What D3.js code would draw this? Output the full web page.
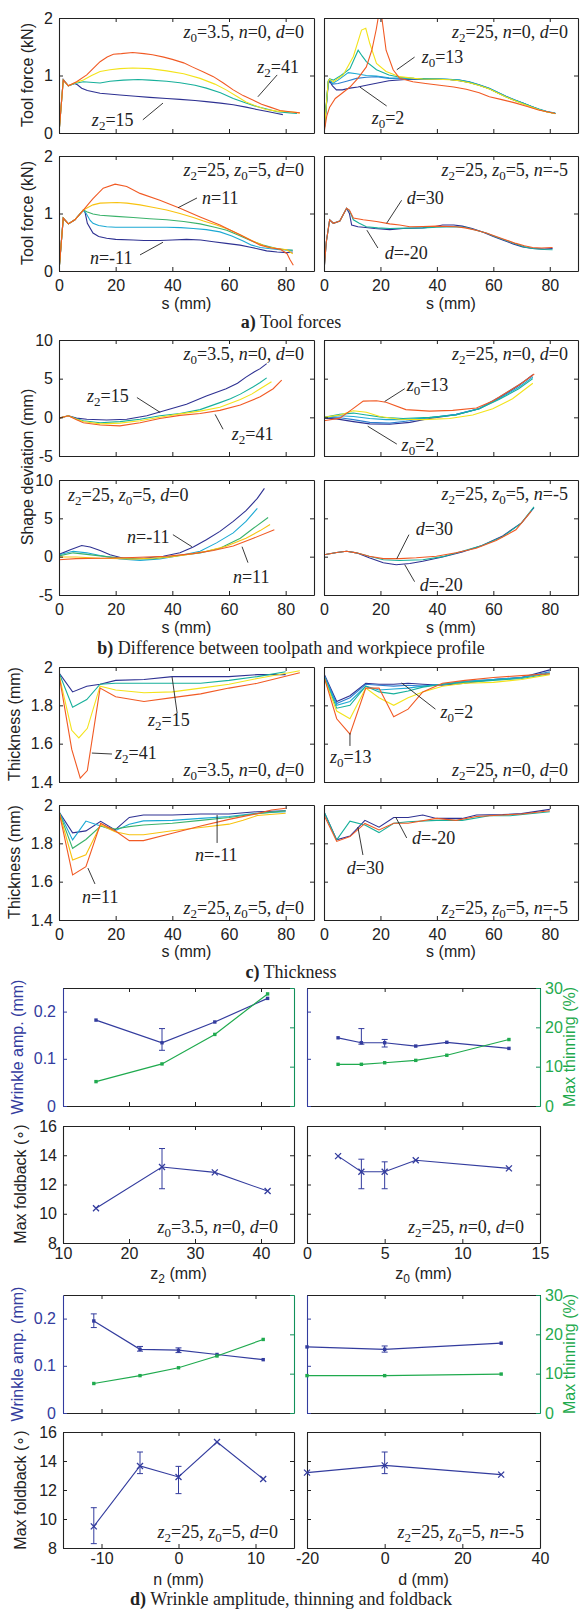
<!DOCTYPE html>
<html>
<head>
<meta charset="utf-8">
<script src="https://cdn.jsdelivr.net/npm/d3@7/dist/d3.min.js"></script>
<style>
  body { margin: 0; background: #fff; }
</style>
</head>
<body>
<div id="fig"></div>
<script>
// a) tool force (kN) vs s (mm)
const fz2_15 = [[0,0],[1.5,0.93],[3.3,0.82],[5.5,0.86],[6.5,0.84],[8,0.78],[10,0.74],[14.5,0.69],[21.5,0.66],[27,0.64],[32,0.62],[38,0.6],[42.7,0.585],[48,0.565],[52,0.545],[57,0.52],[61.5,0.49],[66,0.45],[69.8,0.41],[74,0.37],[77,0.34],[79,0.32]];
const fz2_25 = [[0,0],[1.5,0.92],[3.3,0.82],[5.5,0.86],[8.6,0.89],[14.5,0.87],[18,0.9],[22.7,0.92],[28,0.93],[32,0.92],[38,0.9],[42.7,0.875],[48,0.83],[52,0.78],[57,0.7],[61.5,0.6],[66,0.52],[69.8,0.46],[74,0.41],[77,0.37],[81.5,0.35],[84,0.34]];
const fz2_33 = [[0,0],[1.5,0.92],[3.3,0.82],[5.5,0.87],[8.6,0.92],[11.5,1.0],[14.5,1.07],[18,1.1],[21.5,1.12],[26,1.13],[32,1.12],[38,1.08],[44,1.03],[49.8,0.95],[55,0.85],[59,0.75],[63,0.63],[66,0.54],[70,0.46],[73,0.41],[77,0.38],[81.5,0.37],[85,0.35]];
const fz2_41 = [[0,0],[1.5,0.92],[3.3,0.82],[6.2,0.89],[9.8,1.01],[12,1.12],[14.5,1.24],[17,1.32],[19.2,1.37],[22,1.38],[26,1.4],[30,1.38],[33,1.36],[37,1.32],[40,1.28],[44,1.22],[47,1.15],[51,1.06],[54.5,0.98],[58,0.87],[61.5,0.75],[65,0.65],[68.6,0.57],[71.5,0.5],[74.5,0.45],[78,0.39],[81.5,0.37],[85,0.35]];

const fz0_2 = [[0,0],[1.5,0.85],[2,0.9],[3,0.82],[4.4,0.75],[6.5,0.75],[9.2,0.78],[12,0.8],[15,0.83],[19,0.87],[23,0.91],[29,0.93],[35,0.93],[40,0.935],[44.5,0.93],[48,0.91],[51.5,0.88],[55,0.83],[58.6,0.77],[61.5,0.7],[64.5,0.63],[67.5,0.57],[70.4,0.52],[73.5,0.46],[76.2,0.41],[79,0.37],[82,0.34]];
const fz0_35 = [[0,0],[1.5,0.88],[2,0.93],[3,0.85],[5,0.86],[8,0.9],[11.5,0.95],[15,0.97],[18.6,0.98],[23,0.95],[29,0.94],[35,0.94],[40,0.94],[44.5,0.93],[48,0.92],[51.5,0.89],[55,0.84],[58.6,0.78],[61.5,0.71],[64.5,0.64],[67.5,0.58],[70.4,0.52],[73.5,0.46],[76.2,0.41],[79,0.37],[82,0.34]];
const fz0_5 = [[0,0],[1.5,0.9],[2,0.94],[3,0.86],[5,0.92],[8.6,1.05],[11.5,1.03],[15,1.0],[18.6,0.99],[23,0.96],[29,0.95],[35,0.94],[40,0.94],[44.5,0.935],[48,0.92],[51.5,0.885],[55,0.835],[58.6,0.775],[61.5,0.71],[64.5,0.635],[67.5,0.575],[70.4,0.52],[73.5,0.46],[76.2,0.415],[79,0.375],[82,0.345]];
const fz0_7 = [[0,0],[1.5,0.9],[2,0.94],[3.3,0.92],[6,1.0],[9.2,1.12],[12.1,1.44],[13.5,1.34],[15,1.24],[18.6,1.1],[23,1.01],[27,0.97],[32,0.95],[35,0.945],[40,0.94],[44.5,0.93],[48,0.915],[51.5,0.88],[55,0.83],[58.6,0.77],[61.5,0.7],[64.5,0.63],[67.5,0.57],[70.4,0.515],[73.5,0.455],[76.2,0.41],[79,0.37],[82,0.34]];
const fz0_9 = [[0,0],[1.5,0.9],[2,0.94],[3.3,0.89],[6.8,1.01],[10.4,1.33],[13.3,1.79],[14.8,1.82],[16.2,1.56],[18.6,1.21],[22,1.07],[26.8,0.98],[32,0.95],[35,0.94],[40,0.935],[44.5,0.925],[48,0.91],[51.5,0.875],[55,0.825],[58.6,0.765],[61.5,0.695],[64.5,0.625],[67.5,0.565],[70.4,0.51],[73.5,0.45],[76.2,0.405],[79,0.365],[82,0.335]];
const fz0_13 = [[0,0],[1,0.3],[2,0.45],[4,0.6],[5.6,0.66],[9.2,0.8],[12,0.95],[15,1.15],[17,1.45],[18.5,1.8],[19.2,2.0],[20.5,2.0],[22,1.44],[24.5,1.1],[26.8,0.95],[31.5,0.89],[36,0.86],[41,0.83],[46,0.8],[50.4,0.76],[55,0.7],[58.6,0.63],[63,0.58],[68,0.52],[72,0.46],[76,0.4],[79,0.37],[82,0.34]];

const fn_m11 = [[0,0],[1.5,0.92],[3.3,0.82],[5.6,0.89],[8.6,1.06],[9.2,1.02],[10,0.83],[12,0.66],[14,0.6],[16.8,0.57],[20,0.55],[26.2,0.54],[30,0.53],[35.6,0.53],[40,0.54],[45,0.55],[50,0.54],[54.5,0.51],[59,0.48],[63.9,0.45],[68,0.41],[73.3,0.35],[77,0.33],[80.4,0.32],[82.5,0.33]];
const fn_m5 = [[0,0],[1.5,0.92],[3.3,0.82],[5.6,0.89],[8.6,1.06],[9.6,1.0],[11,0.88],[12,0.83],[14,0.79],[16.8,0.77],[20,0.76],[26.2,0.76],[32,0.76],[38,0.76],[43,0.755],[47.4,0.74],[52,0.72],[56.8,0.68],[61,0.61],[65,0.52],[68,0.45],[71,0.41],[74,0.39],[78,0.37],[82.5,0.36]];
const fn_0 = [[0,0],[1.5,0.92],[3.3,0.82],[5.6,0.89],[8.6,1.06],[9.8,1.03],[12,0.99],[14.5,0.97],[20,0.95],[26.2,0.93],[32,0.91],[38,0.89],[44,0.86],[49.8,0.82],[55,0.76],[59.2,0.71],[63,0.63],[68.6,0.51],[72,0.45],[76.8,0.39],[80,0.37],[82.5,0.36]];
const fn_5 = [[0,0],[1.5,0.92],[3.3,0.82],[5.6,0.89],[8.6,1.06],[10,1.1],[12,1.15],[14.5,1.18],[20.4,1.19],[24,1.18],[28.6,1.15],[33,1.11],[38,1.06],[42.7,1.0],[47.4,0.93],[51,0.87],[55.6,0.8],[60,0.72],[63.9,0.63],[68,0.53],[73.3,0.42],[77,0.39],[80.4,0.37],[82.5,0.3]];
const fn_11 = [[0,0],[1.5,0.92],[3.3,0.82],[5.6,0.89],[8.6,1.06],[10.5,1.17],[12,1.26],[15.6,1.44],[19.8,1.51],[23.9,1.47],[28.6,1.35],[35.6,1.23],[42.7,1.09],[49.8,0.94],[56.8,0.8],[60,0.72],[63.9,0.63],[67.5,0.54],[71,0.45],[75,0.4],[78,0.38],[80.5,0.3],[81.5,0.2],[82.7,0.1]];

const fd_m20 = [[0,0],[0.8,0.5],[2,0.89],[3.3,0.83],[5.6,0.87],[8,1.09],[9,1.0],[9.8,0.8],[12,0.77],[13.9,0.76],[18,0.74],[23.3,0.72],[28,0.74],[35,0.75],[39,0.77],[42,0.8],[46,0.8],[49,0.78],[52.5,0.74],[56.2,0.68],[60,0.6],[63.3,0.54],[67,0.47],[70.4,0.42],[74,0.39],[78,0.38],[81,0.39]];
const fd_0 = [[0,0],[0.8,0.5],[2,0.89],[3.3,0.83],[5.6,0.87],[8,1.09],[9,1.05],[10.4,0.89],[12.5,0.83],[15,0.77],[19,0.75],[23.3,0.74],[29,0.745],[35,0.75],[40,0.76],[46.8,0.77],[50,0.76],[53.9,0.71],[57.5,0.66],[61,0.59],[64.5,0.53],[68,0.47],[71,0.42],[73.9,0.39],[78,0.375],[81,0.37]];
const fd_30 = [[0,0],[0.8,0.5],[2,0.89],[3.3,0.83],[5.6,0.87],[8,1.09],[9,1.06],[10.4,0.92],[13.9,0.89],[18.6,0.86],[23.3,0.82],[26.8,0.8],[30.4,0.77],[35,0.775],[39.8,0.78],[46.8,0.77],[50,0.75],[53.9,0.71],[57.5,0.66],[61,0.6],[64.5,0.54],[68,0.48],[71,0.44],[73.9,0.41],[77,0.4],[81,0.41]];

// b) shape deviation (mm) vs s (mm)
const sz2_15 = [[0,-0.1],[3.3,0.2],[6.2,-0.1],[9.8,-0.25],[16.8,-0.35],[23.9,-0.25],[31,0.2],[38,0.95],[45,1.7],[52,2.75],[59,3.7],[63,4.4],[66,5.2],[69,5.9],[71,6.3],[73.3,6.95]];
const sz2_25 = [[0,-0.1],[3.3,0.2],[6.2,-0.2],[8.6,-0.45],[14.5,-0.7],[21.5,-0.55],[28.6,-0.25],[35.6,0.2],[42.7,0.5],[49.8,1.0],[56.8,1.9],[60.5,2.4],[64,3.0],[68.6,3.95],[71,4.5],[73.3,5.1]];
const sz2_33 = [[0,-0.1],[3.3,0.2],[6.2,-0.25],[8.6,-0.55],[14.5,-0.85],[21.5,-0.75],[28.6,-0.45],[35.6,0],[42.7,0.45],[49.8,0.8],[56.8,1.3],[64,2.3],[68,3.0],[71,3.7],[75,4.6]];
const sz2_41 = [[0,-0.1],[3.3,0.2],[6.2,-0.3],[8.6,-0.7],[14.5,-1.0],[21.5,-1.1],[28.6,-0.7],[35.6,-0.15],[42.7,0.25],[49.8,0.5],[56.8,0.9],[64,1.6],[71,2.65],[75.6,3.7],[78.6,4.8]];

const sz0_2 = [[0,-0.1],[4.4,-0.2],[10.4,-0.55],[16.2,-0.85],[23.3,-0.9],[30.4,-0.65],[37.4,-0.15],[46.8,0.35],[55,1.1],[62,2.5],[69,4.1],[74,5.5]];
const sz0_35 = [[0,0],[5.6,-0.05],[10.4,-0.3],[16.2,-0.65],[23.3,-0.75],[29,-0.5],[37.4,-0.05],[46.8,0.4],[55,1.15],[62,2.6],[69,4.2],[74,5.4]];
const sz0_5 = [[0,0],[5.6,0.2],[10.4,0.1],[16.2,-0.15],[22,-0.3],[29,-0.3],[37.4,-0.05],[46.8,0.35],[55,1.1],[62,2.4],[69,3.9],[74,5.2]];
const sz0_7 = [[0,0],[5.6,0.4],[10.4,0.55],[15,0.3],[21,0],[28,-0.15],[37.4,0],[46.8,0.3],[55,1.1],[62,2.3],[69,3.7],[74,5.0]];
const sz0_9 = [[0,0],[5.6,0.3],[10.4,0.85],[15,0.65],[19.8,0.1],[26.8,-0.25],[35,-0.3],[44.5,-0.15],[52.7,0.3],[59.8,1.1],[66.8,2.4],[74,4.4]];
const sz0_13 = [[0,-0.45],[5.6,-0.1],[9.8,1.0],[13.9,2.1],[18.6,2.15],[22,1.95],[29,1.0],[37.4,0.8],[45.6,0.9],[54,1.2],[59.8,2.1],[65.6,3.4],[70.4,4.5],[74.5,5.6]];

const sn_m11 = [[0,0.3],[4,0.9],[8,1.45],[11,1.25],[14.5,0.8],[18,0.25],[22.7,-0.2],[29.8,-0.2],[36.8,0.05],[42.7,0.5],[47.4,1.25],[52,2.2],[56.8,3.3],[61.5,4.6],[66,6.0],[70,7.6],[72.5,8.9]];
const sn_m5 = [[0,0.25],[5,0.7],[9.8,0.5],[14.5,0.15],[21.5,-0.3],[28.6,-0.5],[35.6,-0.3],[42.7,0.15],[49.8,0.7],[55.6,1.8],[61.5,3.1],[66,4.6],[70,6.3]];
const sn_0 = [[0,0.1],[5,0.5],[9.8,0.3],[16.8,0],[26,-0.3],[33,-0.3],[40,0.05],[49.8,0.5],[56.8,1.1],[64,2.4],[68.6,3.7],[73.8,5.1]];
const sn_5 = [[0,-0.05],[6,-0.05],[14.5,-0.2],[26,-0.3],[38,-0.1],[45,0.25],[52,0.7],[59,1.35],[66,2.4],[71,3.4],[74.5,4.2]];
const sn_11 = [[0,-0.4],[6,-0.25],[14.5,-0.2],[26,-0.1],[38,0.05],[47.4,0.4],[54.5,0.8],[61.5,1.4],[68.6,2.4],[76,3.5]];

const sd_m20 = [[0,0.25],[4.5,0.55],[8,0.7],[11.5,0.5],[16,-0.15],[21,-0.8],[25.6,-1.05],[30.4,-0.9],[35,-0.6],[42,-0.05],[49,0.6],[56,1.45],[63.3,2.7],[70,4.4],[74.4,6.4]];
const sd_0 = [[0,0.25],[4.5,0.55],[8,0.7],[11.5,0.5],[16,0.05],[21,-0.4],[26.8,-0.5],[35,-0.4],[42,0],[49,0.7],[56,1.45],[63.3,2.6],[70,4.4],[74.4,6.5]];
const sd_30 = [[0,0.25],[4.5,0.55],[8,0.7],[11.5,0.5],[16,0.05],[21,-0.25],[26.8,-0.25],[32.7,-0.15],[39.8,0.05],[46.8,0.5],[53.9,1.1],[61,2.1],[68,3.5],[73.4,5.9]];

// c) thickness (mm) vs s (mm)
const tz2_15 = [[0,1.97],[4.8,1.87],[9.8,1.9],[14.5,1.91],[20,1.93],[30,1.935],[40,1.95],[50,1.95],[60,1.95],[70,1.96],[80,1.96]];
const tz2_25 = [[0,1.97],[4.8,1.79],[9.8,1.83],[14.5,1.91],[20,1.915],[30,1.915],[40,1.915],[50,1.915],[60,1.93],[70,1.95],[80,1.975]];
const tz2_33 = [[0,1.96],[4.5,1.67],[7,1.63],[10,1.68],[14.5,1.9],[20,1.88],[30,1.866],[40,1.87],[50,1.89],[60,1.91],[70,1.94],[85,1.98]];
const tz2_41 = [[0,1.96],[4.5,1.57],[7.5,1.42],[10,1.46],[14.5,1.89],[20,1.845],[30,1.82],[40,1.84],[50,1.86],[60,1.89],[70,1.915],[85,1.97]];

const tz0_2 = [[0,1.965],[4.5,1.82],[9.2,1.85],[14.8,1.915],[19.5,1.91],[24.7,1.91],[29.8,1.915],[35,1.91],[42,1.905],[50,1.915],[60,1.935],[70,1.945],[80,1.985]];
const tz0_35 = [[0,1.96],[4.5,1.81],[9.2,1.84],[14.8,1.91],[19.5,1.905],[24.7,1.9],[29.8,1.905],[35,1.9],[42,1.91],[50,1.925],[60,1.935],[70,1.945],[80,1.975]];
const tz0_5 = [[0,1.955],[4.5,1.8],[9.2,1.82],[14.8,1.9],[19.5,1.88],[24.7,1.885],[29.8,1.89],[35,1.9],[42,1.91],[50,1.925],[60,1.935],[70,1.945],[80,1.97]];
const tz0_7 = [[0,1.95],[4.5,1.785],[9.2,1.8],[14.8,1.9],[19.5,1.87],[24.7,1.86],[29.8,1.875],[35,1.895],[42,1.91],[50,1.92],[60,1.93],[70,1.94],[80,1.965]];
const tz0_9 = [[0,1.945],[4.5,1.77],[9.2,1.73],[14.8,1.89],[19.5,1.84],[24.7,1.8],[29.8,1.84],[35,1.87],[42,1.9],[50,1.915],[60,1.92],[70,1.935],[80,1.96]];
const tz0_13 = [[0,1.95],[4.5,1.73],[9.2,1.65],[14.8,1.89],[19.5,1.89],[24.7,1.74],[29.8,1.78],[35,1.87],[42,1.915],[50,1.93],[60,1.945],[70,1.955],[80,1.965]];

const tn_m11 = [[0,1.965],[4.8,1.855],[9.5,1.865],[14.7,1.915],[19.8,1.87],[24.8,1.935],[29.8,1.948],[40,1.948],[50,1.953],[60,1.953],[70,1.965],[80,1.97]];
const tn_m5 = [[0,1.965],[4.8,1.818],[9.5,1.916],[14.7,1.89],[19.8,1.866],[24.8,1.9],[29.8,1.917],[40,1.92],[50,1.93],[60,1.94],[70,1.957],[80,1.965]];
const tn_0 = [[0,1.965],[4.8,1.774],[9.5,1.82],[14.7,1.89],[19.8,1.875],[24.8,1.887],[29.8,1.896],[40,1.905],[50,1.92],[60,1.935],[70,1.955],[80,1.97]];
const tn_5 = [[0,1.965],[4.8,1.713],[9.5,1.74],[14.7,1.896],[19.8,1.86],[24.8,1.845],[29.8,1.845],[40,1.866],[50,1.883],[60,1.9],[65,1.92],[70,1.945],[80,1.957]];
const tn_11 = [[0,1.965],[4.8,1.635],[9.5,1.678],[14.7,1.904],[19.8,1.866],[24.8,1.814],[29.8,1.814],[40,1.853],[50,1.89],[60,1.925],[70,1.955],[75,1.974],[80,1.983]];

const td_m20 = [[0,1.965],[4.5,1.818],[9.2,1.838],[14.5,1.92],[19.5,1.884],[24.7,1.935],[29.8,1.935],[35,1.948],[39.8,1.93],[49,1.93],[54,1.948],[63.3,1.95],[70,1.955],[80,1.977]];
const td_0 = [[0,1.965],[4.5,1.818],[9.2,1.916],[14.5,1.896],[19.5,1.856],[24.7,1.905],[29.8,1.913],[39.8,1.92],[49,1.92],[58.6,1.944],[66,1.944],[80,1.965]];
const td_30 = [[0,1.948],[4.5,1.81],[9.2,1.835],[14.5,1.904],[19.5,1.87],[24.7,1.905],[29.8,1.905],[39.8,1.93],[46.8,1.92],[54,1.94],[63.3,1.948],[70,1.953],[80,1.97]];

// d) wrinkle amplitude (mm), max thinning (%), max foldback (deg)
const z2Vals = [15, 25, 33, 41];
const wrinkleZ2 = [0.182, 0.134, 0.178, 0.228];
const wrinkleZ2Err = [null, [0.118, 0.164], null, null];
const thinZ2 = [6.2, 10.7, 18.2, 28.5];
const foldZ2 = [10.38, 13.2, 12.83, 11.55];
const foldZ2Err = [null, [11.71, 14.46], null, null];

const z0Vals = [2, 3.5, 5, 7, 9, 13];
const wrinkleZ0 = [0.1445, 0.134, 0.134, 0.127, 0.135, 0.122];
const wrinkleZ0Err = [null, [0.131, 0.164], [0.125, 0.141], null, null, null];
const thinZ0 = [10.6, 10.6, 11.0, 11.6, 12.9, 16.9];
const z0FoldVals = [2, 3.5, 5, 7, 13];
const foldZ0 = [13.94, 12.87, 12.87, 13.66, 13.1];
const foldZ0Err = [null, [11.71, 13.73], [11.71, 13.55], null, null];

const nVals = [-11, -5, 0, 5, 11];
const wrinkleN = [0.195, 0.135, 0.133, 0.124, 0.113];
const wrinkleNErr = [[0.181, 0.21], [0.131, 0.141], [0.128, 0.138], null, null];
const thinN = [7.5, 9.5, 11.5, 14.5, 18.7];
const foldN = [9.49, 13.66, 12.9, 15.31, 12.76];
const foldNErr = [[8.3, 10.78], [13.13, 14.62], [11.75, 13.63], null, null];

const dVals = [-20, 0, 30];
const wrinkleD = [0.14, 0.135, 0.148];
const wrinkleDErr = [null, [0.129, 0.142], null];
const thinD = [9.5, 9.5, 9.9];
const foldD = [13.2, 13.7, 13.06];
const foldDErr = [null, [13.13, 14.62], null];

const sTicks = [0, 20, 40, 60, 80];

// colours
const BLUE = "#2e3192", LBLUE = "#2f7fd0", CYAN = "#1ca9d4", TEAL = "#17b09b",
      GREEN = "#3ab26b", YEL = "#f3e31b", GOLD = "#f8c20f", RED = "#f15a24";
const WBLUE = "#333c9e", TGREEN = "#1faa4e", AXGREEN = "#13905a";
const SANS = "'Liberation Sans', Arial, sans-serif";
const SERIF = "'Liberation Serif', 'Times New Roman', serif";
const INK = "#222";

const svg = d3.select("#fig").append("svg")
    .attr("width", 584)
    .attr("height", 1609)
    .style("display", "block");

let clipCount = 0;
const fmt = d => String(d);

// axis with inward ticks, the domain line is the frame edge
function addAxis(g, axis, tx, ty, color, pad) {
    axis.tickSizeInner(-4).tickSizeOuter(0).tickPadding(pad);
    const a = g.append("g").attr("transform", `translate(${tx},${ty})`).call(axis);
    a.attr("font-family", null).attr("font-size", null);
    a.select(".domain").attr("stroke", color).attr("stroke-width", 1.1);
    a.selectAll(".tick line").attr("stroke", color);
    a.selectAll(".tick text").attr("fill", color)
        .style("font-family", SANS).style("font-size", "16px");
    return a;
}

// serif label with italic letters and "_x" subscripts
function mathText(g, x, y, str, anchor) {
    const t = g.append("text").attr("x", x).attr("y", y)
        .attr("text-anchor", anchor || "start")
        .style("font-family", SERIF).style("font-size", "18px").attr("fill", INK);
    let sub = false, back = false;
    for (const c of str) {
        if (c === "_") { sub = true; continue; }
        const sp = t.append("tspan").text(c);
        if (/[a-z]/.test(c)) sp.style("font-style", "italic");
        if (sub) {
            sp.attr("dy", 4).style("font-size", "13px");
            sub = false; back = true;
        } else if (back) {
            sp.attr("dy", -4);
            back = false;
        }
    }
    return t;
}

function linePanel(o) {
    const g = svg.append("g");
    const x = d3.scaleLinear().domain(o.xd).range([o.left, o.left + o.w]);
    const y = d3.scaleLinear().domain(o.yd).range([o.top + o.h, o.top]);
    const id = "clip" + (clipCount++);
    svg.append("clipPath").attr("id", id).append("rect")
        .attr("x", o.left).attr("y", o.top).attr("width", o.w).attr("height", o.h);

    const line = d3.line().x(d => x(d[0])).y(d => y(d[1]));
    g.append("g").attr("clip-path", `url(#${id})`)
        .selectAll("path")
        .data(o.series).join("path")
        .attr("d", d => line(d[0]))
        .attr("fill", "none")
        .attr("stroke", d => d[1])
        .attr("stroke-width", 1.1);

    addAxis(g, d3.axisBottom(x).tickValues(o.xt).tickFormat(o.xl ? fmt : ""), 0, o.top + o.h, INK, 9);
    addAxis(g, d3.axisTop(x).tickValues(o.xt).tickFormat(""), 0, o.top, INK, 3);
    addAxis(g, d3.axisLeft(y).tickValues(o.yt).tickFormat(o.yl ? fmt : ""), o.left, 0, INK, 6);
    addAxis(g, d3.axisRight(y).tickValues(o.yt).tickFormat(""), o.left + o.w, 0, INK, 3);

    // condition label in a corner
    const [txt, pos] = o.cond;
    if (pos === "tr") mathText(g, o.left + o.w - 10, o.top + 20, txt, "end");
    if (pos === "br") mathText(g, o.left + o.w - 10, o.top + o.h - 6, txt, "end");
    if (pos === "tl") mathText(g, o.left + 9, o.top + 21, txt, "start");

    // curve labels with leader lines (positions in data units)
    o.notes.forEach(n => {
        mathText(g, x(n[1]), y(n[2]) + 6, n[0], "start");
        g.append("line")
            .attr("x1", x(n[3])).attr("y1", y(n[4]))
            .attr("x2", x(n[5])).attr("y2", y(n[6]))
            .attr("stroke", INK).attr("stroke-width", 0.9);
    });
    return { g, x, y };
}

function yLabel(x, y, txt, color) {
    return svg.append("text")
        .attr("transform", `translate(${x},${y}) rotate(-90)`)
        .attr("text-anchor", "middle")
        .attr("dominant-baseline", "central")
        .style("font-family", SANS).style("font-size", "16px")
        .attr("fill", color || INK)
        .text(txt);
}

function xLabel(x, y, main, sub, rest) {
    const t = svg.append("text").attr("x", x).attr("y", y)
        .attr("text-anchor", "middle")
        .style("font-family", SANS).style("font-size", "16px").attr("fill", INK);
    t.append("tspan").text(main);
    if (sub) {
        t.append("tspan").attr("dy", 4).style("font-size", "12px").text(sub);
        t.append("tspan").attr("dy", -4).text(rest);
    }
    return t;
}

function title(y, tag, rest) {
    const t = svg.append("text").attr("x", 291).attr("y", y)
        .attr("text-anchor", "middle")
        .style("font-family", SERIF).style("font-size", "18px").attr("fill", INK);
    t.append("tspan").style("font-weight", "bold").text(tag);
    t.append("tspan").text(" " + rest);
}

const LX = 59, LW = 255, RX = 324, RW = 254, PH = 115;

// ---------- a) tool forces ----------
linePanel({ left: LX, top: 18, w: LW, h: PH, xd: [0, 90], yd: [0, 2], xt: sTicks, yt: [0, 1, 2], xl: false, yl: true,
    series: [[fz2_15, BLUE], [fz2_25, TEAL], [fz2_33, YEL], [fz2_41, RED]],
    cond: ["z_0=3.5, n=0, d=0", "tr"],
    notes: [["z_2=41", 70, 1.15, 77, 1.01, 70.2, 0.63], ["z_2=15", 11.6, 0.23, 29.6, 0.23, 36.7, 0.52]] });
linePanel({ left: RX, top: 18, w: RW, h: PH, xd: [0, 90], yd: [0, 2], xt: sTicks, yt: [0, 1, 2], xl: false, yl: false,
    series: [[fz0_2, BLUE], [fz0_35, LBLUE], [fz0_5, CYAN], [fz0_7, TEAL], [fz0_9, YEL], [fz0_13, RED]],
    cond: ["z_2=25, n=0, d=0", "tr"],
    notes: [["z_0=13", 34.6, 1.32, 32.1, 1.32, 25.8, 1.1], ["z_0=2", 16.9, 0.26, 22.2, 0.47, 12.7, 0.8]] });
linePanel({ left: LX, top: 156, w: LW, h: PH, xd: [0, 90], yd: [0, 2], xt: sTicks, yt: [0, 1, 2], xl: true, yl: true,
    series: [[fn_m11, BLUE], [fn_m5, CYAN], [fn_0, GREEN], [fn_5, GOLD], [fn_11, RED]],
    cond: ["z_2=25, z_0=5, d=0", "tr"],
    notes: [["n=11", 50.5, 1.27, 48.7, 1.27, 42, 1.1], ["n=-11", 10.9, 0.23, 28.6, 0.28, 36.7, 0.5]] });
linePanel({ left: RX, top: 156, w: RW, h: PH, xd: [0, 90], yd: [0, 2], xt: sTicks, yt: [0, 1, 2], xl: true, yl: false,
    series: [[fd_m20, BLUE], [fd_0, TEAL], [fd_30, RED]],
    cond: ["z_2=25, z_0=5, n=-5", "tr"],
    notes: [["d=30", 29.3, 1.27, 27.5, 1.23, 22.2, 0.83], ["d=-20", 21.5, 0.31, 19.1, 0.4, 15.2, 0.71]] });
yLabel(27, 75, "Tool force (kN)");
yLabel(27, 213, "Tool force (kN)");
xLabel(LX + LW / 2, 309, "s (mm)");
xLabel(RX + RW / 2, 309, "s (mm)");
title(328, "a)", "Tool forces");

// ---------- b) shape deviation ----------
linePanel({ left: LX, top: 340, w: LW, h: 116, xd: [0, 90], yd: [-5, 10], xt: sTicks, yt: [-5, 0, 5, 10], xl: false, yl: true,
    series: [[sz2_15, BLUE], [sz2_25, TEAL], [sz2_33, YEL], [sz2_41, RED]],
    cond: ["z_0=3.5, n=0, d=0", "tr"],
    notes: [["z_2=15", 9.9, 2.7, 27.5, 2.56, 35.7, 0.64], ["z_2=41", 61, -2.2, 57.9, -1.54, 55.1, 0.38]] });
linePanel({ left: RX, top: 340, w: RW, h: 116, xd: [0, 90], yd: [-5, 10], xt: sTicks, yt: [-5, 0, 5, 10], xl: false, yl: false,
    series: [[sz0_2, BLUE], [sz0_35, LBLUE], [sz0_5, CYAN], [sz0_7, TEAL], [sz0_9, YEL], [sz0_13, RED]],
    cond: ["z_2=25, n=0, d=0", "tr"],
    notes: [["z_0=13", 29.3, 4.2, 28.6, 3.7, 21.5, 2.05], ["z_0=2", 27.5, -3.6, 25.8, -3.46, 15.5, -1.15]] });
linePanel({ left: LX, top: 480, w: LW, h: 115, xd: [0, 90], yd: [-5, 10], xt: sTicks, yt: [-5, 0, 5, 10], xl: true, yl: true,
    series: [[sn_m11, BLUE], [sn_m5, CYAN], [sn_0, GREEN], [sn_5, GOLD], [sn_11, RED]],
    cond: ["z_2=25, z_0=5, d=0", "tl"],
    notes: [["n=-11", 24, 2.6, 40.2, 2.87, 46.9, 1.3], ["n=11", 61.4, -2.6, 66.7, -0.78, 64.6, 1.3]] });
linePanel({ left: RX, top: 480, w: RW, h: 115, xd: [0, 90], yd: [-5, 10], xt: sTicks, yt: [-5, 0, 5, 10], xl: true, yl: false,
    series: [[sd_m20, BLUE], [sd_0, TEAL], [sd_30, RED]],
    cond: ["z_2=25, z_0=5, n=-5", "tr"],
    notes: [["d=30", 32.5, 3.65, 30.1, 2.87, 25.8, -0.26], ["d=-20", 33.9, -3.65, 32.1, -3.26, 28.6, -1.04]] });
yLabel(27, 467, "Shape deviation (mm)");
xLabel(LX + LW / 2, 633, "s (mm)");
xLabel(RX + RW / 2, 633, "s (mm)");
title(654, "b)", "Difference between toolpath and workpiece profile");

// ---------- c) thickness ----------
linePanel({ left: LX, top: 667, w: LW, h: PH, xd: [0, 90], yd: [1.4, 2], xt: sTicks, yt: [1.4, 1.6, 1.8, 2], xl: false, yl: true,
    series: [[tz2_15, BLUE], [tz2_25, TEAL], [tz2_33, YEL], [tz2_41, RED]],
    cond: ["z_0=3.5, n=0, d=0", "br"],
    notes: [["z_2=15", 31.4, 1.724, 39.9, 1.948, 41.7, 1.76], ["z_2=41", 19.8, 1.551, 11.6, 1.551, 18.7, 1.546]] });
linePanel({ left: RX, top: 667, w: RW, h: PH, xd: [0, 90], yd: [1.4, 2], xt: sTicks, yt: [1.4, 1.6, 1.8, 2], xl: false, yl: false,
    series: [[tz0_2, BLUE], [tz0_35, LBLUE], [tz0_5, CYAN], [tz0_7, TEAL], [tz0_9, YEL], [tz0_13, RED]],
    cond: ["z_2=25, n=0, d=0", "br"],
    notes: [["z_0=2", 41.3, 1.765, 27.5, 1.917, 39.5, 1.78], ["z_0=13", 2.1, 1.53, 9.2, 1.656, 9.2, 1.588]] });
linePanel({ left: LX, top: 805, w: LW, h: PH, xd: [0, 90], yd: [1.4, 2], xt: sTicks, yt: [1.4, 1.6, 1.8, 2], xl: true, yl: true,
    series: [[tn_m11, BLUE], [tn_m5, CYAN], [tn_0, GREEN], [tn_5, GOLD], [tn_11, RED]],
    cond: ["z_2=25, z_0=5, d=0", "br"],
    notes: [["n=-11", 48, 1.739, 55.8, 1.948, 55.8, 1.802], ["n=11", 8.1, 1.52, 10.2, 1.671, 12.7, 1.588]] });
linePanel({ left: RX, top: 805, w: RW, h: PH, xd: [0, 90], yd: [1.4, 2], xt: sTicks, yt: [1.4, 1.6, 1.8, 2], xl: true, yl: false,
    series: [[td_m20, BLUE], [td_0, TEAL], [td_30, RED]],
    cond: ["z_2=25, z_0=5, n=-5", "br"],
    notes: [["d=-20", 31.2, 1.828, 25.4, 1.937, 29.3, 1.828], ["d=30", 8.1, 1.671, 12, 1.885, 13.8, 1.739]] });
yLabel(14, 724, "Thickness (mm)");
yLabel(14, 862, "Thickness (mm)");
xLabel(LX + LW / 2, 957, "s (mm)");
xLabel(RX + RW / 2, 957, "s (mm)");
title(978, "c)", "Thickness");

// ---------- d) wrinkle amplitude, thinning and foldback ----------
function errBars(g, x, y, xs, errs, color) {
    xs.forEach((xv, i) => {
        const e = errs[i];
        if (!e) return;
        const px = x(xv);
        g.append("line").attr("x1", px).attr("x2", px).attr("y1", y(e[0])).attr("y2", y(e[1]))
            .attr("stroke", color).attr("stroke-width", 1);
        e.forEach(v => g.append("line").attr("x1", px - 3).attr("x2", px + 3)
            .attr("y1", y(v)).attr("y2", y(v)).attr("stroke", color).attr("stroke-width", 1));
    });
}

function wrinklePanel(o) {
    const g = svg.append("g");
    const x = d3.scaleLinear().domain(o.xd).range([o.left, o.left + o.w]);
    const yB = d3.scaleLinear().domain([0, 0.25]).range([o.top + o.h, o.top]);
    const yG = d3.scaleLinear().domain([0, 30]).range([o.top + o.h, o.top]);
    addAxis(g, d3.axisBottom(x).tickValues(o.xt).tickFormat(""), 0, o.top + o.h, INK, 3);
    addAxis(g, d3.axisTop(x).tickValues(o.xt).tickFormat(""), 0, o.top, INK, 3);
    addAxis(g, d3.axisLeft(yB).tickValues([0, 0.1, 0.2]).tickFormat(o.leftLab ? fmt : ""), o.left, 0, WBLUE, 7);
    addAxis(g, d3.axisRight(yG).tickValues([0, 10, 20, 30]).tickFormat(o.rightLab ? fmt : ""), o.left + o.w, 0, AXGREEN, 5)
        .selectAll(".tick text").attr("fill", TGREEN);

    const wl = d3.line().x((d, i) => x(o.xs[i])).y(d => yB(d));
    const tl = d3.line().x((d, i) => x(o.xs[i])).y(d => yG(d));
    g.append("path").attr("d", wl(o.wrinkle)).attr("fill", "none").attr("stroke", WBLUE).attr("stroke-width", 1.2);
    g.append("path").attr("d", tl(o.thin)).attr("fill", "none").attr("stroke", TGREEN).attr("stroke-width", 1.2);
    errBars(g, x, yB, o.xs, o.werr, WBLUE);
    g.selectAll(".wdot").data(o.wrinkle).join("rect")
        .attr("x", (d, i) => x(o.xs[i]) - 1.7).attr("y", d => yB(d) - 1.7)
        .attr("width", 3.4).attr("height", 3.4).attr("fill", WBLUE);
    g.selectAll(".tdot").data(o.thin).join("rect")
        .attr("x", (d, i) => x(o.xs[i]) - 1.7).attr("y", d => yG(d) - 1.7)
        .attr("width", 3.4).attr("height", 3.4).attr("fill", TGREEN);
}

function foldPanel(o) {
    const g = svg.append("g");
    const x = d3.scaleLinear().domain(o.xd).range([o.left, o.left + o.w]);
    const y = d3.scaleLinear().domain([8, 16]).range([o.top + o.h, o.top]);
    addAxis(g, d3.axisBottom(x).tickValues(o.xt).tickFormat(fmt), 0, o.top + o.h, INK, 5);
    addAxis(g, d3.axisTop(x).tickValues(o.xt).tickFormat(""), 0, o.top, INK, 3);
    addAxis(g, d3.axisLeft(y).tickValues([8, 10, 12, 14, 16]).tickFormat(o.leftLab ? fmt : ""), o.left, 0, INK, 6);
    addAxis(g, d3.axisRight(y).tickValues([8, 10, 12, 14, 16]).tickFormat(""), o.left + o.w, 0, INK, 3);

    const fl = d3.line().x((d, i) => x(o.xs[i])).y(d => y(d));
    g.append("path").attr("d", fl(o.fold)).attr("fill", "none").attr("stroke", WBLUE).attr("stroke-width", 1.1);
    errBars(g, x, y, o.xs, o.err, WBLUE);
    g.selectAll(".mk").data(o.fold).join("path")
        .attr("d", (d, i) => {
            const px = x(o.xs[i]), py = y(d), r = 3;
            return `M${px - r},${py - r}L${px + r},${py + r}M${px - r},${py + r}L${px + r},${py - r}`;
        })
        .attr("stroke", WBLUE).attr("stroke-width", 1.3).attr("fill", "none");
    mathText(g, o.left + o.w - 16, o.top + o.h - 10, o.cond, "end");
}

const DLX = 63, DLW = 231, DRX = 307, DRW = 233;

// block 1: z2 and z0
wrinklePanel({ left: DLX, top: 988, w: DLW, h: 118, xd: [10, 45], xt: [10, 20, 30, 40], xs: z2Vals,
    wrinkle: wrinkleZ2, werr: wrinkleZ2Err, thin: thinZ2, leftLab: true, rightLab: false });
wrinklePanel({ left: DRX, top: 988, w: DRW, h: 118, xd: [0, 15], xt: [0, 5, 10, 15], xs: z0Vals,
    wrinkle: wrinkleZ0, werr: wrinkleZ0Err, thin: thinZ0, leftLab: false, rightLab: true });
foldPanel({ left: DLX, top: 1126, w: DLW, h: 117, xd: [10, 45], xt: [10, 20, 30, 40], xs: z2Vals,
    fold: foldZ2, err: foldZ2Err, leftLab: true, cond: "z_0=3.5, n=0, d=0" });
foldPanel({ left: DRX, top: 1126, w: DRW, h: 117, xd: [0, 15], xt: [0, 5, 10, 15], xs: z0FoldVals,
    fold: foldZ0, err: foldZ0Err, leftLab: false, cond: "z_2=25, n=0, d=0" });
xLabel(DLX + DLW / 2, 1279, "z", "2", " (mm)");
xLabel(DRX + DRW / 2, 1279, "z", "0", " (mm)");

// block 2: n and d
wrinklePanel({ left: DLX, top: 1295, w: DLW, h: 118, xd: [-15, 15], xt: [-10, 0, 10], xs: nVals,
    wrinkle: wrinkleN, werr: wrinkleNErr, thin: thinN, leftLab: true, rightLab: false });
wrinklePanel({ left: DRX, top: 1295, w: DRW, h: 118, xd: [-20, 40], xt: [-20, 0, 20, 40], xs: dVals,
    wrinkle: wrinkleD, werr: wrinkleDErr, thin: thinD, leftLab: false, rightLab: true });
foldPanel({ left: DLX, top: 1432, w: DLW, h: 116, xd: [-15, 15], xt: [-10, 0, 10], xs: nVals,
    fold: foldN, err: foldNErr, leftLab: true, cond: "z_2=25, z_0=5, d=0" });
foldPanel({ left: DRX, top: 1432, w: DRW, h: 116, xd: [-20, 40], xt: [-20, 0, 20, 40], xs: dVals,
    fold: foldD, err: foldDErr, leftLab: false, cond: "z_2=25, z_0=5, n=-5" });
xLabel(DLX + DLW / 2, 1585, "n (mm)");
xLabel(DRX + DRW / 2, 1585, "d (mm)");

yLabel(17, 1047, "Wrinkle amp. (mm)", WBLUE);
yLabel(17, 1354, "Wrinkle amp. (mm)", WBLUE);
yLabel(20, 1184, "Max foldback (\u2218)");
yLabel(20, 1490, "Max foldback (\u2218)");
yLabel(569, 1047, "Max thinning (%)", TGREEN);
yLabel(569, 1354, "Max thinning (%)", TGREEN);
title(1605, "d)", "Wrinkle amplitude, thinning and foldback");
</script>
</body>
</html>
